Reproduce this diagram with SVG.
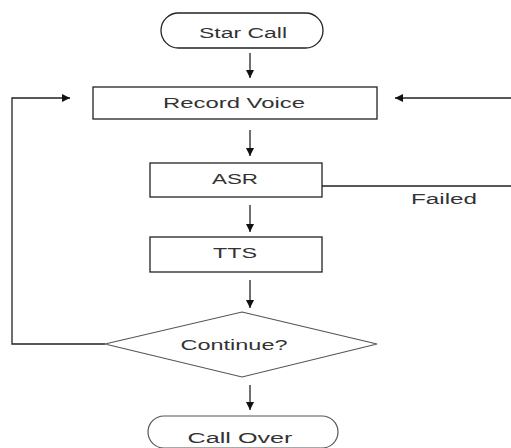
<svg xmlns="http://www.w3.org/2000/svg" width="511" height="448" viewBox="0 0 511 448">
<style>
.n{fill:#fff;stroke:#222;stroke-width:1.3}
.d{fill:#fff;stroke:#555;stroke-width:1.2}
.t{font-family:"Liberation Sans",Arial,sans-serif;font-size:14px;fill:#333;text-anchor:middle}
.c{fill:none;stroke:#222;stroke-width:1.3}
</style>
<defs>
<marker id="ah" viewBox="0 0 10 10" refX="10" refY="5" markerWidth="9" markerHeight="8" markerUnits="userSpaceOnUse" orient="auto">
<path d="M0,0 L10,5 L0,10 z" fill="#111"/>
</marker>
</defs>
<rect width="511" height="448" fill="#fff"/>
<g id="connectors">
<line class="c" x1="250" y1="53" x2="250" y2="78" marker-end="url(#ah)"/>
<line class="c" x1="250" y1="130" x2="250" y2="156" marker-end="url(#ah)"/>
<line class="c" x1="250" y1="205" x2="250" y2="232" marker-end="url(#ah)"/>
<line class="c" x1="250" y1="280" x2="250" y2="308" marker-end="url(#ah)"/>
<line class="c" x1="250" y1="385" x2="250" y2="410" marker-end="url(#ah)"/>
<path class="c" d="M105,344 H12 V98 H70" marker-end="url(#ah)"/>
<path class="c" d="M322,186 H513 V98 H395" marker-end="url(#ah)"/>
<text class="t" x="444" y="204" textLength="66" lengthAdjust="spacingAndGlyphs">Failed</text>
</g>
<g id="start">
<rect class="n" x="161" y="13" width="162" height="35" rx="17.5"/>
<text class="t" x="243" y="38" textLength="88" lengthAdjust="spacingAndGlyphs">Star Call</text>
</g>
<g id="record">
<rect class="n" x="93" y="87" width="284" height="32"/>
<text class="t" x="234" y="108" textLength="142" lengthAdjust="spacingAndGlyphs">Record Voice</text>
</g>
<g id="asr">
<rect class="n" x="150" y="163" width="172" height="34"/>
<text class="t" x="235" y="184" textLength="46" lengthAdjust="spacingAndGlyphs">ASR</text>
</g>
<g id="tts">
<rect class="n" x="150" y="237" width="172" height="35"/>
<text class="t" x="235" y="258" textLength="44" lengthAdjust="spacingAndGlyphs">TTS</text>
</g>
<g id="continue">
<polygon class="d" points="242,312 377,344 242,377 105,344"/>
<text class="t" x="234" y="350" textLength="107" lengthAdjust="spacingAndGlyphs">Continue?</text>
</g>
<g id="over">
<rect class="d" x="148" y="416" width="190" height="32" rx="16"/>
<text class="t" x="240" y="443" textLength="105" lengthAdjust="spacingAndGlyphs">Call Over</text>
</g>
</svg>
